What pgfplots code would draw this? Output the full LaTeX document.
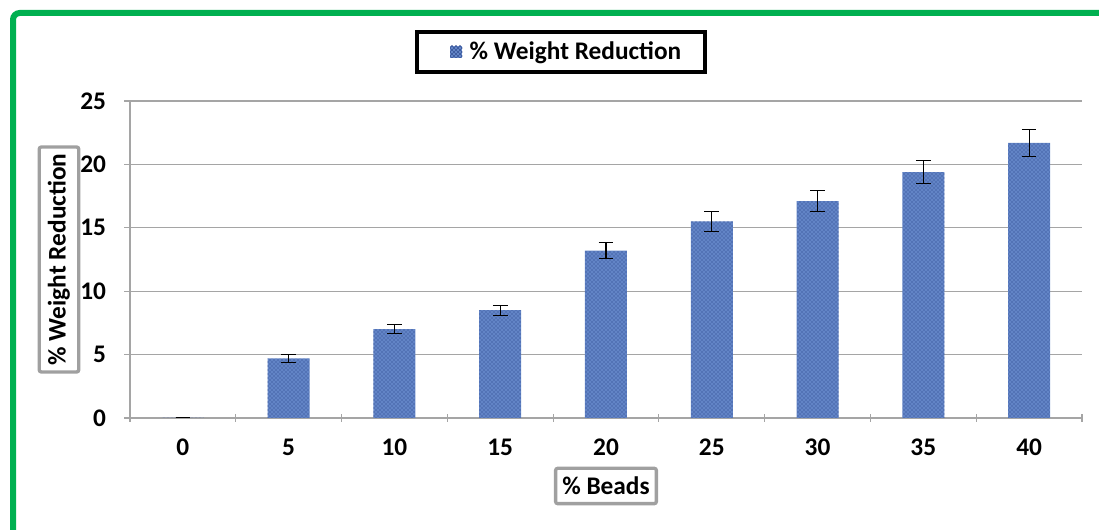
\documentclass[border=0pt]{standalone}
\usepackage{pgfplots}
\pgfplotsset{compat=1.18}
\usepackage{fontspec}
\setmainfont{Carlito}
\usetikzlibrary{patterns}
\definecolor{barblue}{RGB}{98,132,198}
\definecolor{bardark}{RGB}{35,60,130}
\definecolor{gframe}{RGB}{0,176,80}
\definecolor{axgray}{RGB}{165,165,165}
\definecolor{lblgray}{RGB}{160,160,160}
\begin{document}
\begin{tikzpicture}
\begin{scope}[x=0.75pt,y=0.75pt]
\path[use as bounding box] (0,0) rectangle (1099,530);
\draw[gframe, line width=4.5pt, rounded corners=5pt] (13,0) -- (13,517) -- (1099,517);
\end{scope}
\begin{axis}[
  at={(97.5pt,84pt)}, anchor=south west,
  scale only axis, width=714pt, height=237.75pt,
  ybar, bar width=31.5pt,
  xmin=-0.5, xmax=8.5, ymin=0, ymax=25,
  ytick={0,5,...,25},
  xtick={0,...,8}, xticklabels={0,5,10,15,20,25,30,35,40},
  minor xtick={-0.5,0.5,...,8.5},
  major x tick style={draw=none},
  tick align=outside,
  axis x line=bottom, axis y line=left,
  axis line style={axgray, line width=1pt, -},
  ymajorgrids, grid style={axgray, line width=0.8pt},
  y tick style={axgray, line width=0.8pt},
  major tick length=9pt, minor tick length=6pt,
  minor x tick style={axgray, line width=0.8pt},
  ticklabel style={font=\fontsize{19}{22}\selectfont\bfseries},
  xticklabel style={yshift=-8pt},
  yticklabel style={xshift=-10pt},
  /pgf/number format/assume math mode=true,
  xlabel={\% Beads}, ylabel={\% Weight Reduction},
  label style={font=\fontsize{19}{22}\selectfont\bfseries, draw=lblgray, line width=2.5pt, rounded corners=1.5pt, inner xsep=5pt, inner ysep=6.5pt, fill=white},
  xlabel style={at={(axis description cs:0.5,-0.2145)}, anchor=center},
  ylabel style={at={(axis description cs:-0.0746,0.5)}, anchor=center},
  legend style={at={(axis description cs:0.4527,1.1546)}, anchor=center, draw=black, line width=3pt, font=\fontsize{19}{22}\selectfont\bfseries, inner xsep=16pt, inner ysep=5.5pt},
  legend image code/.code={\pgfpathmoveto{\pgfpoint{0pt}{0pt}}\pgfpathlineto{\pgfpoint{21.75pt}{0pt}}\pgfusepath{use as bounding box}\fill[barblue] (9pt,-4.5pt) rectangle (18pt,4.5pt); \fill[pattern=crosshatch dots, pattern color=bardark] (9pt,-4.5pt) rectangle (18pt,4.5pt);},
]
\addplot[fill=barblue, draw=none, postaction={pattern=crosshatch dots, pattern color=bardark},
  error bars/.cd, y dir=both, y explicit,
  error bar style={black, line width=0.8pt},
  error mark options={rotate=90, mark size=5.5pt, black, line width=0.8pt}]
coordinates {
 (0,0) +- (0,0)
 (1,4.7) +- (0,0.3)
 (2,7.0) +- (0,0.35)
 (3,8.5) +- (0,0.4)
 (4,13.2) +- (0,0.65)
 (5,15.5) +- (0,0.8)
 (6,17.1) +- (0,0.85)
 (7,19.4) +- (0,0.9)
 (8,21.7) +- (0,1.05)
};
\addlegendentry{\% Weight Reduction}
\end{axis}
\end{tikzpicture}
\end{document}
